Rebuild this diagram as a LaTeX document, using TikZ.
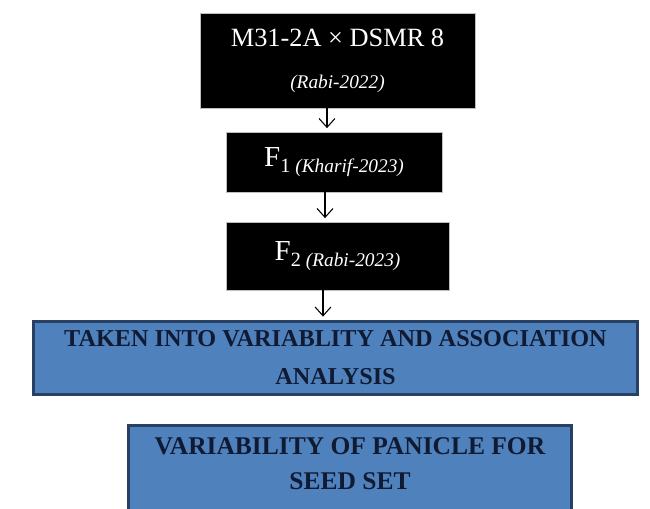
\documentclass[tikz,border=0pt]{standalone}
\usepackage{fontspec}
\setmainfont{Liberation Serif}
\usepackage{xcolor}
\usepackage{tikz}
\usetikzlibrary{arrows.meta}
\definecolor{boxblue}{RGB}{79,129,189}
\definecolor{boxedge}{RGB}{40,64,100}
\definecolor{navytext}{RGB}{16,26,50}
\tikzset{>={Straight Barb[length=5pt, width=9pt]}}
\tikzstyle{blackbox} = [rectangle, fill=black, draw=gray!50, text=white, align=center, inner sep=2]
\tikzstyle{bluebox} = [rectangle, fill=boxblue, draw=boxedge, line width=1.6pt, text=navytext, align=center]
\tikzstyle{flow} = [->, line width=.6pt, shorten >=2pt]

\begin{document}
\begin{tikzpicture}
\clip (0, 0) rectangle (13, 10.16);
\node [blackbox, minimum width=5.5cm, minimum height=1.9cm] (cross) at (6.75, 8.95)
  {\fontsize{15}{18}\selectfont M31-2A × DSMR 8\\[12pt]
   \fontsize{11}{13}\selectfont\itshape (Rabi-2022)};
\node [blackbox, minimum width=4.32cm, minimum height=1.2cm] (f1) at (6.68, 6.92)
  {{\fontsize{16.5}{18}\selectfont F}\raisebox{-3pt}{\fontsize{11.5}{13}\selectfont 1 \itshape\fontsize{11}{13}\selectfont (Kharif-2023)}};
\node [blackbox, minimum width=4.46cm, minimum height=1.36cm] (f2) at (6.75, 5.04)
  {{\fontsize{16.5}{18}\selectfont F}\raisebox{-3pt}{\fontsize{11.5}{13}\selectfont 2 \itshape\fontsize{11}{13}\selectfont (Rabi-2023)}};
\node [bluebox, minimum width=12.08cm, minimum height=1.46cm,
  font=\fontsize{13.8}{21.6}\selectfont\bfseries] (analysis) at (6.71, 3.0)
  {TAKEN INTO VARIABLITY AND ASSOCIATION\\ANALYSIS};
% runs off the bottom edge
\node [bluebox, minimum width=8.86cm, anchor=north, inner ysep=7pt, text depth=40pt,
  font=\fontsize{14.5}{20}\selectfont\bfseries] (seedset) at (7.0, 1.68)
  {VARIABILITY OF PANICLE FOR\\SEED SET};
\draw [flow] ([xshift=-.21cm]cross.south) -- ([xshift=-.21cm]cross.south |- f1.north);
\draw [flow] ([xshift=-.18cm]f1.south) -- ([xshift=-.18cm]f1.south |- f2.north);
\draw [flow] ([xshift=-.29cm]f2.south) -- ([xshift=-.29cm]f2.south |- analysis.north);
\end{tikzpicture}
\end{document}
